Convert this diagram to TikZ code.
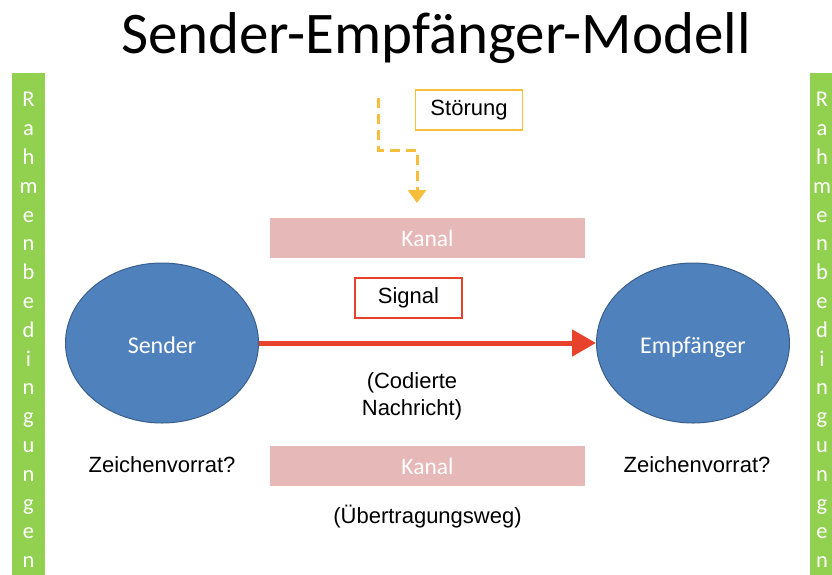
\documentclass[tikz,border=0pt]{standalone}
\usepackage{fontspec}
\setmainfont{Liberation Sans}
\newfontfamily\calibri{Carlito}
\usepackage{tikz}
\usetikzlibrary{shapes.geometric, arrows.meta, positioning, calc}
\definecolor{partnerblue}{HTML}{4F81BD}
\definecolor{partnerline}{HTML}{3A5F8C}
\definecolor{channel}{HTML}{E6B9B8}
\definecolor{framegreen}{HTML}{92D050}
\definecolor{noise}{HTML}{F6BE3A}
\definecolor{signalred}{HTML}{E8412C}

\newcommand{\rahmenletters}{R\\a\\h\\m\\e\\n\\b\\e\\d\\i\\n\\g\\u\\n\\g\\e\\n}

\begin{document}
\begin{tikzpicture}[
  x=1pt, y=-1pt,
  partner/.style={
    ellipse, draw=partnerline, fill=partnerblue, line width=1pt,
    minimum width=193pt, minimum height=160pt, inner sep=0pt,
    text height=20pt, text depth=0pt,
    text=white, font=\calibri\fontsize{24}{28}\selectfont,
  },
  channel/.style={
    rectangle, fill=channel, minimum width=315pt, minimum height=40pt,
    inner sep=0pt, text=white, font=\calibri\fontsize{23.5}{27}\selectfont,
  },
  tagbox/.style={
    rectangle, draw, line width=1.2pt, minimum width=107pt, minimum height=40pt,
    inner sep=0pt, font=\fontsize{22}{26}\selectfont,
  },
  bar/.style={
    rectangle, fill=framegreen, minimum width=33pt, minimum height=520pt, inner sep=0pt,
  },
  barletters/.style={
    align=center, text=white, inner sep=0pt,
    font=\calibri\fontsize{22.5}{28.8}\selectfont,
  },
  plain/.style={align=center, inner sep=0pt, font=\fontsize{22}{27}\selectfont},
  signalarrow/.style={-{Triangle[length=24pt,width=26pt]}, line width=5pt, color=signalred},
  noisearrow/.style={-{Triangle[length=13pt,width=18pt]}, line width=3pt, color=noise,
    dash pattern=on 10pt off 6pt},
]
  \useasboundingbox (0,0) rectangle (832,574);

  \node[font=\calibri\fontsize{59}{64}\selectfont] (title) at (436,38) {Sender-Empfänger-Modell};

  % frame conditions on both sides
  \node[bar] (leftbar) at (28.5,333) {};
  \node[barletters] (leftlbl) at (28.5,330) {\rahmenletters};
  \node[bar] (rightbar) at (826.5,333) {};
  \node[barletters] (rightlbl) at (822,330) {\rahmenletters};

  % disturbance
  \node[tagbox, draw=noise] (stoer) at (469,110) {Störung};
  \coordinate (noisestart) at (378,98);
  \coordinate (noisebend) at (378,150);
  \coordinate (noisehit) at (417,203);
  \draw[noisearrow] (noisestart) -- (noisebend) -| (noisehit);

  % channel and signal
  \node[channel] (kanaltop) at (427.5,238) {Kanal};
  \node[tagbox, draw=signalred] (signal) at (408.5,298) {Signal};
  \node[partner] (sender) at (162,343) {Sender};
  \node[partner] (empf) at (693,343) {Empfänger};
  \draw[signalarrow] (sender.east) -- (empf.west);

  \node[plain] (code) at (412,396) {(Codierte\\Nachricht)};
  \node[channel] (kanalbot) at (427.5,466) {Kanal};
  \node[plain, below=19pt of kanalbot] (weg) {(Übertragungsweg)};

  \node[plain] (zvleft) at (162,465) {Zeichenvorrat?};
  \node[plain] (zvright) at (697,465) {Zeichenvorrat?};
\end{tikzpicture}
\end{document}
